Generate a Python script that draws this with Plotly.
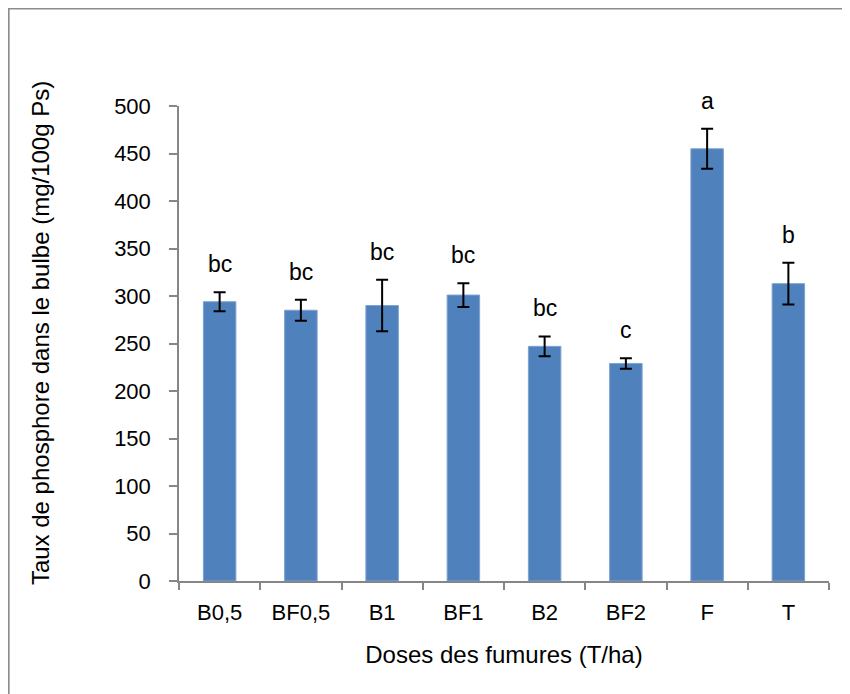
import plotly.graph_objects as go

categories = ["B0,5", "BF0,5", "B1", "BF1", "B2", "BF2", "F", "T"]
values = [294, 285, 290, 301, 247, 229, 455, 313]
errors = [10, 11, 27, 12.5, 10.5, 5.5, 21, 22]
letters = ["bc", "bc", "bc", "bc", "bc", "c", "a", "b"]

FONT = "Liberation Sans"
W, H = 850, 694
# page has an 8px body offset
L, T = 171, 98
R = W - 821.5
B = H - 573

fig = go.Figure()
fig.add_trace(go.Bar(
    x=categories, y=values,
    marker=dict(color="#4F81BD", line=dict(color="#7FA3D3", width=1)),
    error_y=dict(type="data", array=errors, visible=True, color="black",
                 thickness=2, width=6),
    width=0.4, cliponaxis=False, showlegend=False,
))

for c, v, e, t in zip(categories, values, errors, letters):
    fig.add_annotation(x=c, y=v + e, text=t, showarrow=False, yanchor="bottom",
                       yshift=13, font=dict(family=FONT, size=23, color="black"))

pw, ph = W - L - R, H - T - B
fig.add_annotation(xref="paper", yref="paper", x=-(L - 32) / pw,
                   y=(H - B - 325) / ph,
                   text="Taux de phosphore dans le bulbe (mg/100g Ps)",
                   textangle=-90, showarrow=False, xanchor="center", yanchor="middle",
                   font=dict(family=FONT, size=24, color="black"))

fig.add_shape(type="rect", xref="paper", yref="paper",
              x0=-(L - 0.5) / pw, x1=(W + 20 - L) / pw,
              y0=-(B + 20) / ph, y1=1 + (T - 0.5) / ph,
              line=dict(color="#8C8C8C", width=2), layer="below")

fig.update_layout(
    width=W, height=H, margin=dict(l=L, r=R, t=T, b=B),
    plot_bgcolor="white", paper_bgcolor="white",
    font=dict(family=FONT, size=22, color="black"),
    bargap=0.6,
    xaxis=dict(showline=True, linecolor="#868686", linewidth=1.5,
               ticks="outside", tickson="boundaries", ticklen=7, tickcolor="#868686",
               tickwidth=1.5, ticklabelstandoff=11,
               title=dict(text="Doses des fumures (T/ha)", standoff=22,
                          font=dict(family=FONT, size=24))),
    yaxis=dict(range=[0, 500], dtick=50, showline=True, linecolor="#868686",
               linewidth=1.5, ticks="outside", ticklen=8, tickcolor="#868686",
               tickwidth=1.5, showgrid=False, zeroline=False, ticklabelstandoff=14),
)

fig.write_html("out.html")
